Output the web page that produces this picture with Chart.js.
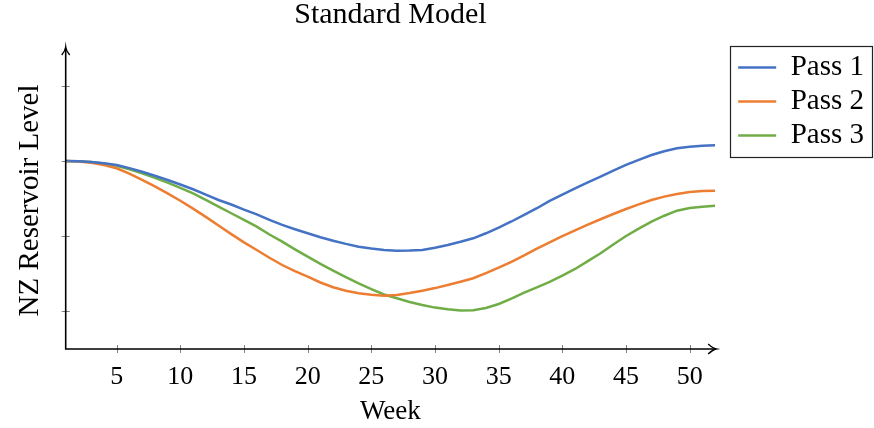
<!DOCTYPE html>
<html>
<head>
<meta charset="utf-8">
<script src="https://cdn.jsdelivr.net/npm/chart.js@4.4.0/dist/chart.umd.min.js"></script>
<style>
  html, body { margin: 0; padding: 0; background: #fff; }
  canvas { display: block; }
</style>
</head>
<body>
<canvas id="chart" width="874" height="428"></canvas>
<script>
// weekly reservoir level
const weeks = [1, 2, 3, 4, 5, 6, 7, 8, 9, 10, 11, 12, 13, 14, 15, 16, 17, 18, 19, 20, 21, 22, 23, 24, 25, 26,
	27, 28, 29, 30, 31, 32, 33, 34, 35, 36, 37, 38, 39, 40, 41, 42, 43, 44, 45, 46, 47, 48, 49, 50, 51, 52];

const pass1 = [3000, 2995, 2987, 2970, 2947, 2905, 2857, 2803, 2747, 2686, 2623, 2552, 2480, 2420, 2352, 2289,
	2216, 2147, 2090, 2036, 1983, 1937, 1895, 1857, 1832, 1813, 1804, 1806, 1813, 1843, 1880, 1922, 1969, 2036,
	2111, 2193, 2280, 2370, 2467, 2551, 2636, 2716, 2791, 2870, 2947, 3015, 3080, 3130, 3169, 3190, 3204, 3209];

const pass2 = [3000, 2992, 2977, 2945, 2903, 2830, 2747, 2660, 2569, 2470, 2365, 2255, 2140, 2025, 1915, 1813,
	1710, 1613, 1530, 1457, 1380, 1316, 1270, 1236, 1215, 1204, 1213, 1240, 1271, 1305, 1347, 1390, 1436, 1505,
	1577, 1655, 1740, 1830, 1915, 1998, 2075, 2150, 2223, 2293, 2360, 2422, 2480, 2525, 2560, 2585, 2600, 2604];

const pass3 = [3000, 2996, 2985, 2965, 2937, 2890, 2836, 2775, 2711, 2642, 2569, 2480, 2391, 2303, 2215, 2124,
	2020, 1924, 1822, 1724, 1627, 1537, 1450, 1369, 1290, 1220, 1170, 1120, 1080, 1045, 1023, 1005, 1010, 1040,
	1093, 1165, 1244, 1315, 1387, 1470, 1560, 1665, 1769, 1887, 2000, 2098, 2191, 2270, 2337, 2372, 2391, 2404];

const xTicks = [5, 10, 15, 20, 25, 30, 35, 40, 45, 50];
const yTicks = [1000, 2000, 3000, 4000];

const serif = '"Liberation Serif", "Times New Roman", serif';

const toPoints = vals => vals.map((v, i) => ({ x: weeks[i], y: v }));

const series = (label, vals, color) => ({
	label: label,
	data: toPoints(vals),
	borderColor: color,
	backgroundColor: color,
	pointBorderColor: color,
	pointBackgroundColor: color,
	pointBorderWidth: 2.5
});

// pgfplots look: axis lines with arrow tips, ticks crossing the axis, framed legend
const axisDecor = {
	id: 'axisDecor',
	afterDraw(chart) {
		const { ctx, chartArea, scales } = chart;
		const { left, right, top, bottom } = chartArea;
		ctx.save();

		ctx.strokeStyle = '#808080';
		ctx.lineWidth = 1;
		ctx.beginPath();
		xTicks.forEach(v => {
			const x = Math.round(scales.x.getPixelForValue(v)) + 0.5;
			ctx.moveTo(x, bottom - 4);
			ctx.lineTo(x, bottom + 4);
		});
		yTicks.forEach(v => {
			const y = Math.round(scales.y.getPixelForValue(v)) + 0.5;
			ctx.moveTo(left - 4, y);
			ctx.lineTo(left + 4, y);
		});
		ctx.stroke();

		ctx.strokeStyle = '#000';
		ctx.lineWidth = 1.6;
		ctx.beginPath();
		ctx.moveTo(left, top - 3);
		ctx.lineTo(left, bottom);
		ctx.lineTo(right, bottom);
		ctx.stroke();

		// arrow heads
		ctx.lineWidth = 1.4;
		ctx.beginPath();
		ctx.moveTo(left - 4, top + 3);
		ctx.quadraticCurveTo(left - 0.5, top - 1, left, top - 5);
		ctx.quadraticCurveTo(left + 0.5, top - 1, left + 4, top + 3);
		ctx.moveTo(right - 7, bottom - 5);
		ctx.quadraticCurveTo(right - 2, bottom - 0.5, right + 1, bottom);
		ctx.quadraticCurveTo(right - 2, bottom + 0.5, right - 7, bottom + 5);
		ctx.stroke();

		// legend frame
		const boxes = chart.legend.legendHitBoxes;
		if (boxes && boxes.length) {
			const first = boxes[0];
			const last = boxes[boxes.length - 1];
			const fx = Math.round(first.left - 8);
			const fy = Math.round(first.top - 7);
			const fb = Math.round(last.top + last.height + 7);
			ctx.strokeStyle = '#222';
			ctx.lineWidth = 1.2;
			ctx.strokeRect(fx + 0.5, fy + 0.5, 873 - fx - 1, fb - fy);
		}
		ctx.restore();
	}
};

const ctx = document.getElementById('chart');
const myChart = new Chart(ctx, {
	type: 'line',
	data: {
		datasets: [
			series('Pass 1', pass1, '#4472C4'),
			series('Pass 2', pass2, '#ED7D31'),
			series('Pass 3', pass3, '#70AD47')
		]
	},
	options: {
		responsive: false,
		animation: false,
		elements: {
			line: { borderWidth: 2.5, tension: 0, fill: false },
			point: { radius: 0 }
		},
		layout: { padding: 0 },
		scales: {
			x: {
				type: 'linear',
				min: 1,
				max: 52,
				grid: { display: false, drawTicks: false },
				border: { display: false },
				ticks: {
					stepSize: 5,
					includeBounds: false,
					maxRotation: 0,
					padding: 13,
					color: '#000',
					font: { family: serif, size: 26 }
				},
				title: {
					display: true,
					text: 'Week',
					color: '#000',
					font: { family: serif, size: 27 },
					padding: { top: 2, bottom: 0 }
				},
				afterFit: scale => { scale.height = 79; }
			},
			y: {
				min: 493,
				max: 4453,
				grid: { display: false, drawTicks: false },
				border: { display: false },
				ticks: { display: false },
				title: {
					display: true,
					text: 'NZ Reservoir Level',
					color: '#000',
					font: { family: serif, size: 29 },
					padding: { top: 13, bottom: 0 }
				},
				afterFit: scale => { scale.width = 65.7; }
			},
			// empty gap between the plot and the legend
			gap: {
				position: 'right',
				grid: { display: false, drawTicks: false },
				border: { display: false },
				ticks: { display: false },
				afterFit: scale => { scale.width = 18; }
			}
		},
		plugins: {
			title: {
				display: true,
				fullSize: false,
				text: 'Standard Model',
				color: '#000',
				font: { family: serif, size: 30, weight: 'normal', lineHeight: 1 },
				padding: { top: 0, bottom: 22 }
			},
			legend: {
				position: 'right',
				align: 'start',
				title: {
					display: true,
					text: ' ',
					font: { size: 10, lineHeight: 1 },
					padding: { top: 38, bottom: 0 }
				},
				labels: {
					usePointStyle: true,
					pointStyle: 'line',
					pointStyleWidth: 38,
					padding: 5,
					color: '#000',
					font: { family: serif, size: 29 }
				}
			},
			tooltip: { enabled: false }
		}
	},
	plugins: [axisDecor]
});
</script>
</body>
</html>
